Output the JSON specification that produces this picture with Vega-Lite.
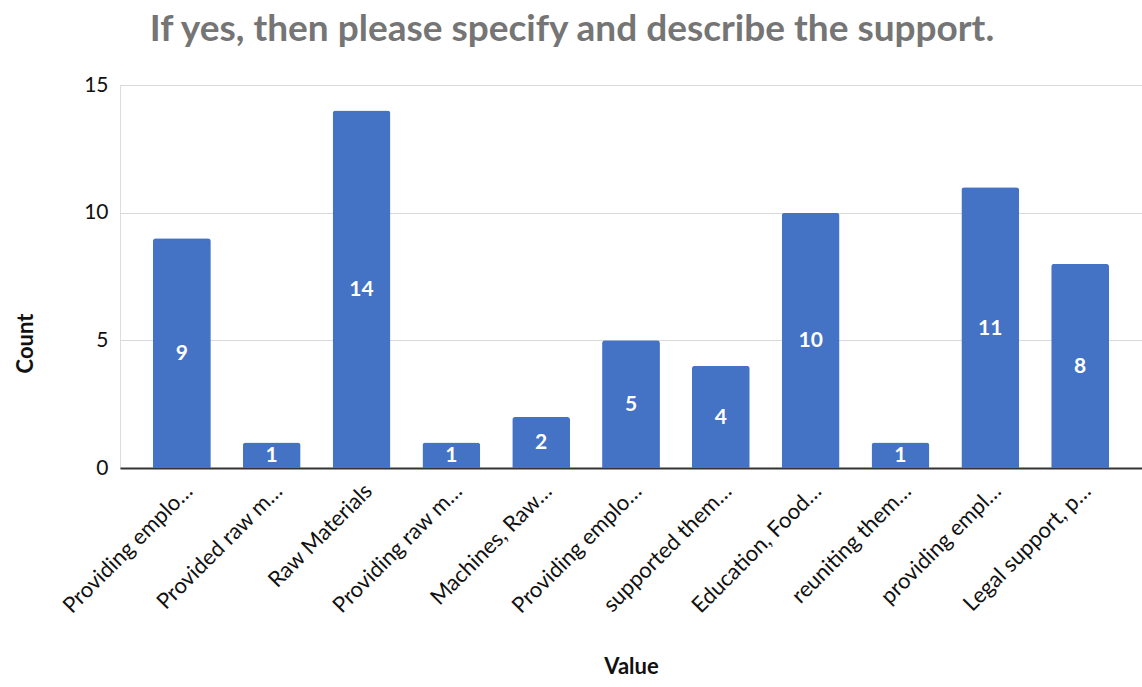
{
  "$schema": "https://vega.github.io/schema/vega-lite/v6.json",
  "width": 1022,
  "height": 383,
  "autosize": {"type": "none"},
  "padding": {"left": 120, "top": 85, "right": 0, "bottom": 219},
  "background": "white",
  "title": {
    "text": "If yes, then please specify and describe the support.",
    "font": "Lato",
    "fontSize": 37,
    "fontWeight": "bold",
    "color": "#757575",
    "anchor": "middle",
    "dx": -59,
    "offset": 25
  },
  "data": {
    "values": [
      {"order": 1, "Value": "Providing emplo…", "Count": 9},
      {"order": 2, "Value": "Provided raw m…", "Count": 1},
      {"order": 3, "Value": "Raw Materials", "Count": 14},
      {"order": 4, "Value": "Providing raw m…", "Count": 1},
      {"order": 5, "Value": "Machines, Raw…", "Count": 2},
      {"order": 6, "Value": "Providing emplo…\u200b", "Count": 5},
      {"order": 7, "Value": "supported them…", "Count": 4},
      {"order": 8, "Value": "Education, Food…", "Count": 10},
      {"order": 9, "Value": "reuniting them…", "Count": 1},
      {"order": 10, "Value": "providing empl…", "Count": 11},
      {"order": 11, "Value": "Legal support, p…", "Count": 8}
    ]
  },
  "encoding": {
    "x": {
      "field": "Value",
      "type": "nominal",
      "sort": {"field": "order"},
      "scale": {"paddingInner": 0.356, "paddingOuter": 0.367},
      "axis": {
        "title": "Value",
        "titleFont": "Lato",
        "titleFontSize": 22,
        "titleFontWeight": "bold",
        "titleColor": "#111111",
        "titleY": 198,
        "titleX": 511,
        "titleBaseline": "middle",
        "labelAngle": -45,
        "labelAlign": "right",
        "labelBaseline": "top",
        "labelFont": "Lato",
        "labelFontSize": 22,
        "labelColor": "#111111",
        "labelPadding": 12,
        "labelLimit": 300,
        "ticks": false,
        "domainColor": "#333333",
        "domainWidth": 2,
        "grid": false
      }
    }
  },
  "layer": [
    {
      "mark": {"type": "bar", "color": "#4472C4", "cornerRadiusTopLeft": 3, "cornerRadiusTopRight": 3},
      "encoding": {
        "y": {
          "field": "Count",
          "type": "quantitative",
          "scale": {"domain": [0, 15]},
          "axis": {
            "values": [0, 5, 10, 15],
            "title": "Count",
            "titleFont": "Lato",
            "titleFontSize": 22,
            "titleFontWeight": "bold",
            "titleColor": "#111111",
            "titleAngle": -90,
            "titleX": -95,
            "titleY": 258,
            "titleAlign": "center",
            "titleBaseline": "middle",
            "labelFont": "Lato",
            "labelFontSize": 21,
            "labelColor": "#111111",
            "labelPadding": 12,
            "ticks": false,
            "domain": false,
            "gridColor": "#d9d9d9",
            "gridWidth": 1.2
          }
        }
      }
    },
    {
      "mark": {"type": "text", "color": "white", "font": "Lato", "fontSize": 21, "fontWeight": "bold", "baseline": "middle", "dy": 1},
      "encoding": {
        "y": {
          "field": "Count",
          "type": "quantitative",
          "scale": {"domain": [0, 30]},
          "axis": null
        },
        "text": {"field": "Count", "type": "quantitative"}
      }
    }
  ],
  "resolve": {"scale": {"y": "independent"}}
}
